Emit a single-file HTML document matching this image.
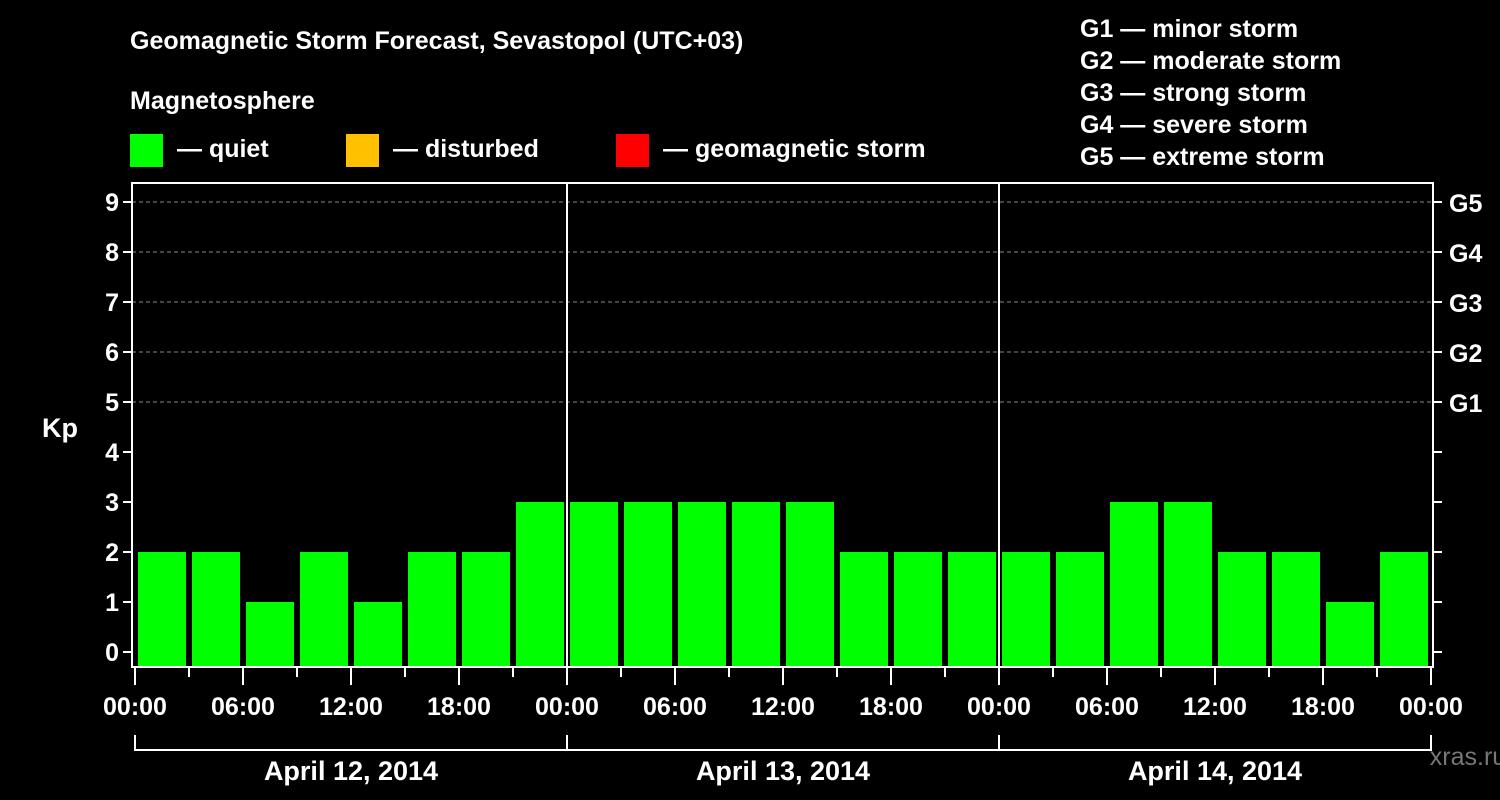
<!DOCTYPE html>
<html><head><meta charset="utf-8"><style>
body{margin:0;background:#000;}
svg{display:block;font-family:"Liberation Sans",Arial,sans-serif;font-weight:bold;}
</style></head><body>
<svg id="c" width="1500" height="800" viewBox="0 0 1500 800">
<rect width="1500" height="800" fill="#000"/>
<text x="130" y="49" fill="#fff" font-size="25">Geomagnetic Storm Forecast, Sevastopol (UTC+03)</text>
<text x="130" y="109" fill="#fff" font-size="25">Magnetosphere</text>
<g><rect x="130" y="134" width="33" height="33" fill="#00ff00"/><text x="177" y="157" fill="#fff" font-size="25">— quiet</text></g>
<g><rect x="346" y="134" width="33" height="33" fill="#ffc000"/><text x="393" y="157" fill="#fff" font-size="25">— disturbed</text></g>
<g><rect x="616" y="134" width="33" height="33" fill="#ff0000"/><text x="663" y="157" fill="#fff" font-size="25">— geomagnetic storm</text></g>
<g fill="#fff" font-size="25">
<text x="1080" y="37">G1 — minor storm</text>
<text x="1080" y="69">G2 — moderate storm</text>
<text x="1080" y="101">G3 — strong storm</text>
<text x="1080" y="133">G4 — severe storm</text>
<text x="1080" y="165">G5 — extreme storm</text>
</g>
<text x="42" y="437" fill="#fff" font-size="27">Kp</text>
<text x="1468" y="765" fill="#777" font-size="25" font-weight="normal" text-anchor="middle">xras.ru</text>
<g id="g"></g>
</svg>
<script>
const kpValues=[2,2,1,2,1,2,2,3, 3,3,3,3,3,2,2,2, 2,2,3,3,2,2,1,2];
const dayLabels=["April 12, 2014","April 13, 2014","April 14, 2014"];
const hourLabels=["00:00","06:00","12:00","18:00"];
const kpTicks=[0,1,2,3,4,5,6,7,8,9];
const gLabels=["G1","G2","G3","G4","G5"];
const NS="http://www.w3.org/2000/svg";
const g=document.getElementById('g');
const X0=135, SLOT=54, L=132, R=1433, T=183, B=667;
const x=i=>X0+SLOT*i;
const y=v=>652-50*v;
function mk(t,a,p){const e=document.createElementNS(NS,t);for(const k in a)e.setAttribute(k,a[k]);(p||g).appendChild(e);return e;}
function color(v){return v>=5?'#ff0000':(v>=4?'#ffc000':'#00ff00');}
// grid
kpTicks.forEach(v=>{
  if(v>=5){const l=mk('line',{x1:L,x2:R,y1:y(v),y2:y(v),stroke:'#888','stroke-width':1,'stroke-dasharray':'4,3'});
  
  }
  const tl=mk('line',{x1:L-9,x2:L,y1:y(v),y2:y(v),stroke:'#fff','stroke-width':2});
  
  
  const tr=mk('line',{x1:R,x2:R+9,y1:y(v),y2:y(v),stroke:'#fff','stroke-width':2});
  
  
  const t=mk('text',{x:L-13,y:y(v)+9,fill:'#fff','font-size':25,'text-anchor':'end'});
  t.textContent=v;
  
  
});
gLabels.forEach((s,i)=>{
  const t=mk('text',{x:R+16,y:y(5+i)+10,fill:'#fff','font-size':25});
  t.textContent=s;
  
  
});
// bars
kpValues.forEach((v,i)=>{
  const b=mk('rect',{x:x(i)+3,y:y(v),width:SLOT-6,height:B-y(v),fill:color(v)});
  
  
});
// frame
const f=mk('rect',{x:L,y:T,width:R-L,height:B-T,fill:'none',stroke:'#fff','stroke-width':2});


for(let d=1;d<dayLabels.length;d++){
  const l=mk('line',{x1:x(d*8),x2:x(d*8),y1:T,y2:B,stroke:'#fff','stroke-width':2});
  
  
}
// x ticks
for(let i=0;i<=kpValues.length;i++){
  const major=i%2===0;
  const t=mk('line',{x1:x(i),x2:x(i),y1:B,y2:major?685:677,stroke:'#fff','stroke-width':2});
  
  
  if(major){
    const tx=mk('text',{x:x(i),y:715,fill:'#fff','font-size':25,'text-anchor':'middle'});
    tx.textContent=hourLabels[(i/2)%4];
    
    
  }
}
// day brackets
const bl=mk('line',{x1:x(0),x2:x(kpValues.length),y1:750,y2:750,stroke:'#fff','stroke-width':2});


for(let d=0;d<=dayLabels.length;d++){
  const v=mk('line',{x1:x(d*8),x2:x(d*8),y1:735,y2:751,stroke:'#fff','stroke-width':2});
  
  
}
dayLabels.forEach((s,d)=>{
  const t=mk('text',{x:x(d*8+4),y:780,fill:'#fff','font-size':27,'text-anchor':'middle'});
  t.textContent=s;
  
  
});
</script>
</body></html>
